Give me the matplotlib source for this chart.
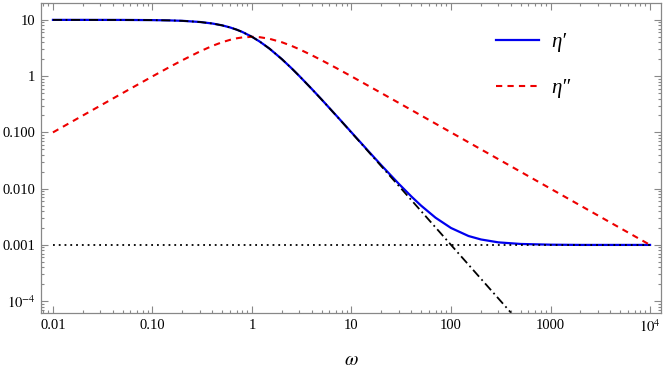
#!/usr/bin/env python3
"""Storage/loss viscosity vs frequency, log-log (Mathematica style frame)."""
import matplotlib
matplotlib.use('Agg')
import matplotlib.pyplot as plt
from matplotlib.ticker import LogLocator, FixedLocator, FixedFormatter, NullFormatter

plt.rcParams.update({
    'font.family': 'serif',
    'font.serif': ['Liberation Serif', 'DejaVu Serif'],
    'mathtext.fontset': 'stix',
})

# values
omega_p = [0.01, 0.02, 0.05, 0.1, 0.15, 0.2, 0.3, 0.4, 0.5, 0.6, 0.7, 0.8, 1, 1.2,
           1.5, 2, 2.5, 3, 4, 5, 6, 7, 8, 10, 12, 15, 20, 30, 40, 50, 70, 100, 150,
           200, 300, 500, 1000, 2000, 10000]
eta_p = [10.0, 10.0, 9.98, 9.90, 9.78, 9.62, 9.17, 8.62, 8.0, 7.35, 6.71, 6.10,
         5.0, 4.10, 3.08, 2.0, 1.38, 1.0, 0.589, 0.386, 0.271, 0.201, 0.155, 0.100,
         0.0700, 0.0452, 0.0259, 0.0121, 0.00725, 0.0050, 0.00304, 0.0020, 0.00144,
         0.00125, 0.00111, 0.00104, 0.00101, 0.001, 0.001]

omega_pp = [0.01, 0.02, 0.05, 0.1, 0.15, 0.2, 0.3, 0.4, 0.5, 0.6, 0.7, 0.8, 1, 1.2,
            1.5, 2, 2.5, 3, 4, 5, 7, 10, 20, 30, 50, 100, 200, 500, 1000, 2000,
            5000, 10000]
eta_pp = [0.1, 0.2, 0.499, 0.99, 1.467, 1.92, 2.75, 3.45, 4.0, 4.41, 4.70, 4.88,
          5.0, 4.92, 4.61, 4.0, 3.45, 3.0, 2.35, 1.92, 1.40, 0.99, 0.499, 0.333,
          0.200, 0.100, 0.050, 0.020, 0.010, 0.005, 0.002, 0.001]

omega_asym = [0.01, 0.05, 0.1, 0.15, 0.2, 0.3, 0.4, 0.5, 0.6, 0.7, 0.8, 1, 1.2,
              1.5, 2, 2.5, 3, 4, 5, 6, 7, 8, 10, 12, 15, 20, 30, 50, 100, 200, 400]
eta_asym = [10.0, 9.98, 9.90, 9.78, 9.62, 9.17, 8.62, 8.0, 7.35, 6.71, 6.10, 5.0,
            4.10, 3.08, 2.0, 1.38, 1.0, 0.588, 0.385, 0.270, 0.200, 0.154, 0.099,
            0.069, 0.0442, 0.0249, 0.0111, 0.0040, 0.0010, 0.00025, 0.0000625]

omega_inf = [0.01, 10000]
eta_inf = [0.001, 0.001]

xticks = [0.01, 0.1, 1, 10, 100, 1000, 10000]
xlabels = ['0.01', '0.10', '1', '10', '100', '1000', r'$10^{4}$']
yticks = [1e-4, 1e-3, 1e-2, 1e-1, 1, 10]
ylabels = [r'$10^{-4}$', '0.001', '0.010', '0.100', '1', '10']

fig = plt.figure(figsize=(6.64, 3.75), dpi=100)
ax = fig.add_axes([41 / 664, 1 - 313 / 375, 620 / 664, 310 / 375])

ax.plot(omega_p, eta_p, color='#0000ee', lw=1.6, label='η′')
ax.plot(omega_pp, eta_pp, color='#ee0000', lw=1.5, ls=(0, (3, 2.5)), label='η″')
ax.plot(omega_asym, eta_asym, color='black', lw=1.3, ls=(0, (5, 2, 1, 2)))
ax.plot(omega_inf, eta_inf, color='black', lw=1.3, ls=(0, (1, 2.2)))

ax.set_xscale('log')
ax.set_yscale('log')
ax.set_xlim(10 ** -2.12, 10 ** 4.11)
ax.set_ylim(10 ** -4.21, 10 ** 1.30)

ax.xaxis.set_major_locator(FixedLocator(xticks))
ax.xaxis.set_major_formatter(FixedFormatter(xlabels))
ax.yaxis.set_major_locator(FixedLocator(yticks))
ax.yaxis.set_major_formatter(FixedFormatter(ylabels))
ax.xaxis.set_minor_locator(LogLocator(base=10, subs=range(2, 10), numticks=20))
ax.yaxis.set_minor_locator(LogLocator(base=10, subs=range(2, 10), numticks=20))
ax.xaxis.set_minor_formatter(NullFormatter())
ax.yaxis.set_minor_formatter(NullFormatter())

ax.tick_params(which='both', direction='in', top=True, right=True, color='#888888',
               labelsize=10.5, width=0.8)
ax.tick_params(which='major', length=5, pad=4)
ax.tick_params(which='minor', length=2.5)
for s in ax.spines.values():
    s.set_color('#888888')
    s.set_linewidth(0.9)

ax.set_xlabel(r'$\omega$', fontsize=14, labelpad=12)

ax.legend(loc='upper left', bbox_to_anchor=(0.703, 0.965), frameon=False,
          prop={'family': 'Liberation Serif', 'style': 'italic', 'size': 15},
          handlelength=2.1, handletextpad=0.55, labelspacing=1.25)

fig.savefig('out.png', dpi=100)
